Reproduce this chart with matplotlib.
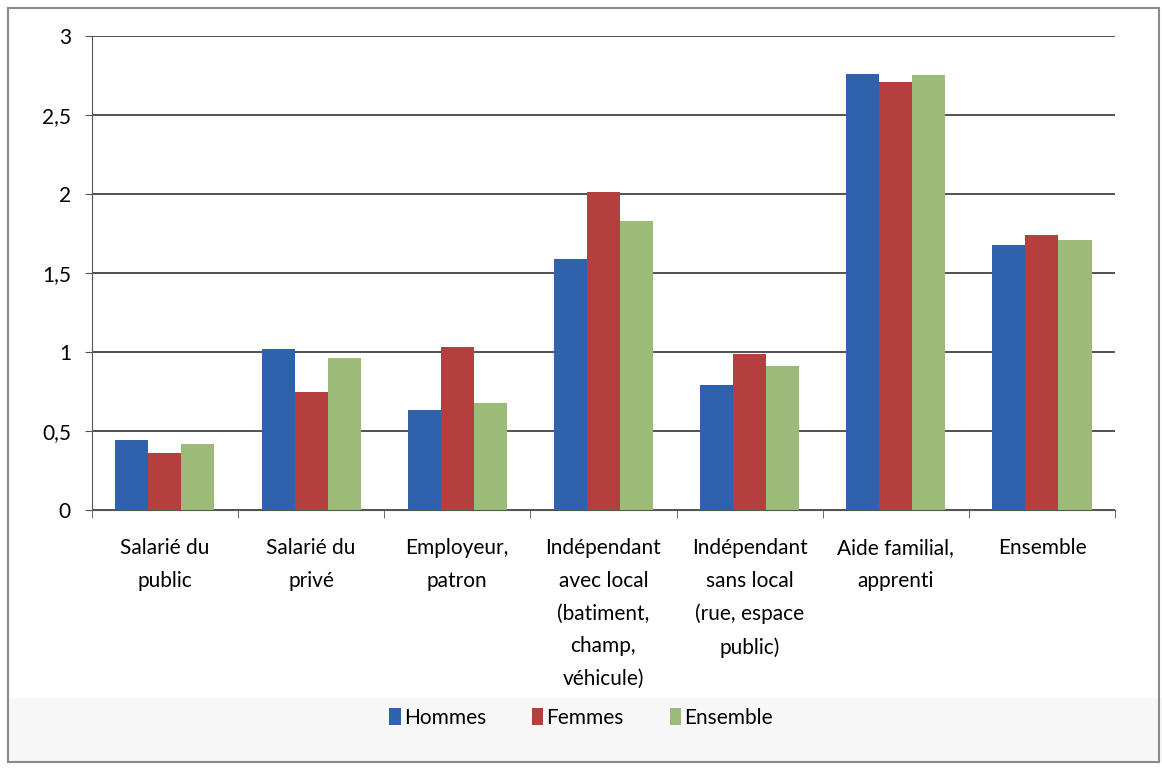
import matplotlib.pyplot as plt
import numpy as np
from matplotlib.patches import Rectangle

categories = ["Salarié du\npublic", "Salarié du\nprivé", "Employeur,\npatron",
              "Indépendant\navec local\n(batiment,\nchamp,\nvéhicule)",
              "Indépendant\nsans local\n(rue, espace\npublic)",
              "Aide familial,\napprenti", "Ensemble"]
series_names = ["Hommes", "Femmes", "Ensemble"]
hommes = [0.44, 1.02, 0.63, 1.59, 0.79, 2.76, 1.68]
femmes = [0.36, 0.75, 1.03, 2.01, 0.99, 2.71, 1.74]
ensemble = [0.42, 0.96, 0.68, 1.83, 0.91, 2.75, 1.71]
yticks = [0, 0.5, 1, 1.5, 2, 2.5, 3]
ytick_labels = ["0", "0,5", "1", "1,5", "2", "2,5", "3"]

colors = ["#2F62AC", "#B3403F", "#9CBA78"]

plt.rcParams['font.family'] = ['Lato', 'DejaVu Sans']

fig = plt.figure(figsize=(11.62, 7.77), dpi=100)
ax = fig.add_axes([0.079, 0.3436, 0.8806, 0.6101])

# light band behind the legend and outer frame
fig.patches.append(Rectangle((0.007, 0.019), 0.993, 0.083, transform=fig.transFigure,
                             facecolor="#F7F7F7", edgecolor="none", zorder=-1))
fig.patches.append(Rectangle((0.007, 0.019), 0.99, 0.971, transform=fig.transFigure,
                             facecolor="none", edgecolor="#8A8A8A", linewidth=1.5))

x = np.arange(len(categories))
width = 0.226
bars = []
for i, (vals, col) in enumerate(zip([hommes, femmes, ensemble], colors)):
    b = ax.bar(x + (i - 1) * width, vals, width, color=col, zorder=3)
    bars.append(b)

ax.set_xlim(-0.5, len(categories) - 0.5)
ax.set_ylim(0, 3)
ax.set_yticks(yticks)
ax.set_yticklabels(ytick_labels, fontsize=15)
ax.set_xticks(x)
ax.set_xticklabels(categories, fontsize=15, linespacing=1.8, va="top")
ax.tick_params(axis='x', length=0, pad=20)
ax.set_xticks(np.arange(len(categories) + 1) - 0.5, minor=True)
ax.tick_params(axis='x', which='minor', length=6, direction='out', color="#555555")
ax.tick_params(axis='y', length=5, direction='out', color="#555555", pad=10)

ax.yaxis.grid(True, color="#333333", linewidth=1.2, zorder=0)
for side in ["top", "right"]:
    ax.spines[side].set_visible(False)
ax.spines["left"].set_color("#555555")
ax.spines["bottom"].set_color("#555555")
ax.set_facecolor("white")

fig.legend(bars, series_names, loc="center", bbox_to_anchor=(0.5, 0.076), ncol=3,
           frameon=False, fontsize=15, handlelength=0.55, handleheight=0.85,
           handletextpad=0.15, columnspacing=2.2)

fig.savefig("out.png", dpi=100)
